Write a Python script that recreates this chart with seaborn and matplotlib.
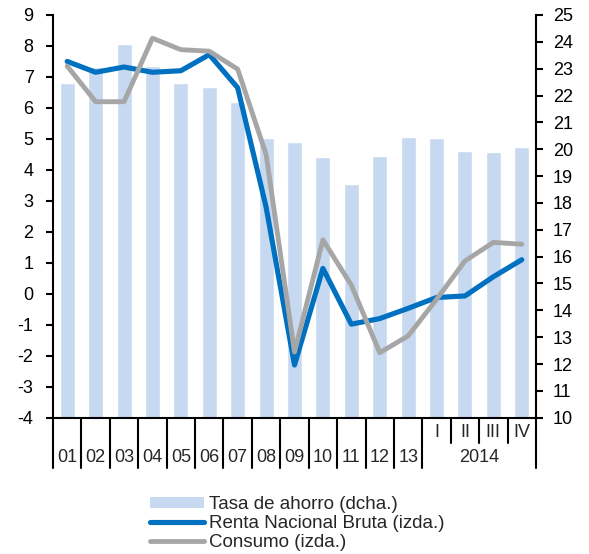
import numpy as np
import pandas as pd
import matplotlib
matplotlib.use('Agg')
import matplotlib.pyplot as plt
from matplotlib.patches import Patch
from matplotlib.lines import Line2D
import matplotlib.transforms as mtransforms
import seaborn as sns

# categories: years 2001-2013 then quarters of 2014
years = ['01', '02', '03', '04', '05', '06', '07', '08', '09', '10', '11', '12', '13']
quarters = ['I', 'II', 'III', 'IV']
quarter_year = '2014'
categories = years + quarters

# Tasa de ahorro (right axis)
ahorro = [22.45, 23.05, 23.9, 23.1, 22.45, 22.3, 21.75, 20.4, 20.25,
          19.7, 18.7, 19.75, 20.45, 20.4, 19.95, 19.9, 20.1]
# Renta Nacional Bruta (left axis)
renta = [7.5, 7.15, 7.32, 7.15, 7.2, 7.72, 6.65, 2.8, -2.3,
         0.82, -0.98, -0.8, -0.47, -0.12, -0.07, 0.55, 1.1]
# Consumo (left axis)
consumo = [7.35, 6.2, 6.2, 8.25, 7.88, 7.83, 7.25, 4.5, -1.88,
           1.74, 0.28, -1.9, -1.36, -0.18, 1.06, 1.66, 1.6]

left_ticks = list(range(-4, 10))
right_ticks = list(range(10, 26))

bar_color = '#C6D9F1'
blue = '#0070C0'
gray = '#A6A6A6'

sns.set_style('white')
plt.rcParams['font.family'] = ['Liberation Sans', 'DejaVu Sans']
plt.rcParams['axes.unicode_minus'] = False
fs = 13

df = pd.DataFrame({'cat': categories, 'pos': np.arange(len(categories)),
                   'ahorro': ahorro, 'renta': renta, 'consumo': consumo})

fig = plt.figure(figsize=(5.89, 5.54), dpi=100)
ax1 = fig.add_axes([0.090, 0.246, 0.820, 0.727])
ax2 = ax1.twinx()

# bars on right axis
sns.barplot(data=df, x='pos', y='ahorro', color=bar_color, saturation=1,
            width=0.53, ax=ax2, native_scale=True)
ax2.set_ylim(10, 25)
ax2.set_yticks(right_ticks)

# lines on left axis
sns.lineplot(data=df, x='pos', y='renta', color=blue, linewidth=3.7, ax=ax1)
sns.lineplot(data=df, x='pos', y='consumo', color=gray, linewidth=3.5, ax=ax1)
ax1.set_ylim(-4, 9)
ax1.set_yticks(left_ticks)

ax1.set_zorder(ax2.get_zorder() + 1)
ax1.patch.set_visible(False)

n = len(categories)
for ax in (ax1, ax2):
    ax.set_xlim(-0.5, n - 0.5)
    ax.set_xticks([])
    ax.set_xlabel('')
    ax.set_ylabel('')
    ax.spines['top'].set_visible(False)
    for s in ax.spines.values():
        s.set_linewidth(1.5)
        s.set_color('black')
    ax.tick_params(axis='y', length=5, width=1.5, labelsize=fs,
                   colors='black')
ax1.tick_params(axis='y', pad=9)
ax2.tick_params(axis='y', pad=7)
ax2.spines['left'].set_visible(False)
ax2.spines['bottom'].set_visible(False)
ax1.spines['right'].set_visible(False)

# category separators and labels below axis
trans = mtransforms.blended_transform_factory(ax1.transData, ax1.transAxes)
nyears = len(years)
for k in range(nyears + 1):
    ax1.plot([k - 0.5, k - 0.5], [0, -0.125], color='black', lw=1.5,
             transform=trans, clip_on=False)
ax1.plot([n - 0.5, n - 0.5], [0, -0.125], color='black', lw=1.5,
         transform=trans, clip_on=False)
for k in range(nyears + 1, n):
    ax1.plot([k - 0.5, k - 0.5], [0, -0.063], color='black', lw=1.5,
             transform=trans, clip_on=False)
for i, lab in enumerate(years):
    ax1.text(i, -0.100, lab, transform=trans, ha='center', va='center',
             fontsize=fs)
for j, lab in enumerate(quarters):
    ax1.text(nyears + j, -0.036, lab, transform=trans, ha='center',
             va='center', fontsize=fs)
ax1.text(nyears + (len(quarters) - 1) / 2, -0.100, quarter_year,
         transform=trans, ha='center', va='center', fontsize=fs)

handles = [Patch(facecolor=bar_color, edgecolor='none'),
           Line2D([], [], color=blue, lw=3.7),
           Line2D([], [], color=gray, lw=3.5)]
labels = ['Tasa de ahorro (dcha.)', 'Renta Nacional Bruta (izda.)',
          'Consumo (izda.)']
fig.legend(handles, labels, loc='upper left', bbox_to_anchor=(0.255, 0.104),
           frameon=False, fontsize=13.5, handlelength=2.85, handleheight=0.55,
           handletextpad=0.27, labelspacing=0.1, borderpad=0,
           borderaxespad=0)

fig.savefig('out.png', dpi=100)
